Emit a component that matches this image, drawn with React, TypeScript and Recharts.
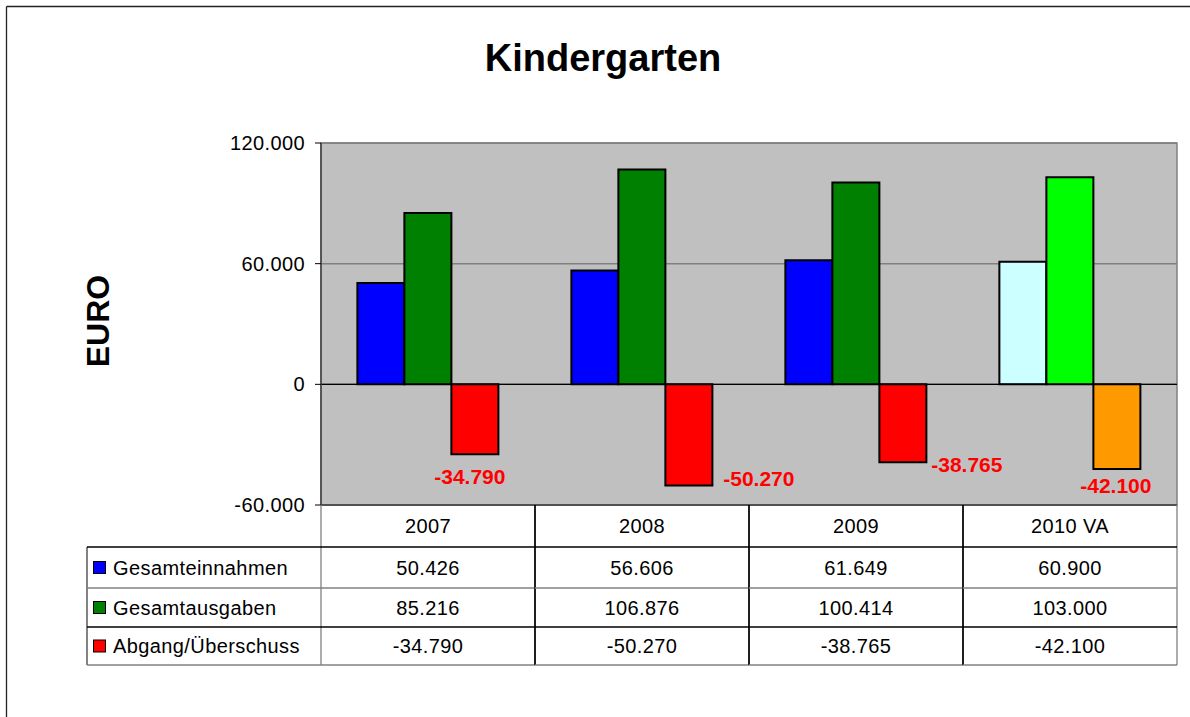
import React from 'react';
import {
  BarChart, Bar, XAxis, YAxis, CartesianGrid, Cell, LabelList, ReferenceLine, ReferenceArea,
} from 'recharts';

const categories = ['2007', '2008', '2009', '2010 VA'];
const einnahmen = [50426, 56606, 61649, 60900];
const ausgaben = [85216, 106876, 100414, 103000];
const abgang = [-34790, -50270, -38765, -42100];
const seriesNames = ['Gesamteinnahmen', 'Gesamtausgaben', 'Abgang/Überschuss'];
const yTicks = [-60000, 0, 60000, 120000];

const seriesColors = ['#0000FF', '#008000', '#FF0000'];
const forecastColors = ['#CCFFFF', '#00FF00', '#FF9900'];
const FONT = '"Liberation Sans", Arial, sans-serif';
const COL_W = 214;
// label offsets (dx, dy) from the bottom centre of each negative bar, as placed in the original
const LABEL_OFFSETS: [number, number][] = [[-5, 22], [70, -7], [64, 2], [-1, 16]];

const data = categories.map((year, i) => ({
  year,
  einnahmen: einnahmen[i],
  ausgaben: ausgaben[i],
  abgang: abgang[i],
}));

const fmt = (v: number): string => {
  const s = Math.abs(Math.round(v)).toString().replace(/\B(?=(\d{3})+(?!\d))/g, '.');
  return (v < 0 ? '-' : '') + s;
};

const rowSeries = [einnahmen, ausgaben, abgang];
// row boundaries relative to the axis top
const ROW_EDGES = [0, 42, 83, 122, 160];
const ROW_LINE_COLORS = ['#000', '#808080', '#000', '#808080'];

const TableTick = (props: any) => {
  const { x, y, payload, index } = props;
  const top = y;
  const left = x - COL_W / 2;
  const right = x + COL_W / 2;
  const i = index ?? categories.indexOf(payload.value);
  return (
    <g>
      <line x1={left} x2={left} y1={top} y2={top + ROW_EDGES[4]} stroke={i === 0 ? '#808080' : '#000'} strokeWidth={1.3} />
      <line x1={right} x2={right} y1={top} y2={top + ROW_EDGES[4]} stroke={i === 3 ? '#808080' : '#000'} strokeWidth={1.3} />
      {ROW_EDGES.slice(1).map((e, k) => (
        <line key={k} x1={left} x2={right} y1={top + e} y2={top + e} stroke={ROW_LINE_COLORS[k]} strokeWidth={1.3} />
      ))}
      <text x={x} y={top + 28} textAnchor="middle" fontSize={20} letterSpacing={0.4} fill="#000" fontFamily={FONT}>
        {payload.value}
      </text>
      {rowSeries.map((arr, k) => (
        <text key={k} x={x} y={top + (ROW_EDGES[k + 1] + ROW_EDGES[k + 2]) / 2 + 7} textAnchor="middle" fontSize={20} letterSpacing={0.4} fill="#000" fontFamily={FONT}>
          {fmt(arr[i])}
        </text>
      ))}
    </g>
  );
};

const NegLabel = (props: any) => {
  const { x, y, width, height, value, index } = props;
  const bottom = Math.max(y, y + height);
  const cx = x + width / 2;
  const [dx, dy] = LABEL_OFFSETS[index] || [0, 16];
  return (
    <text x={cx + dx} y={bottom + dy + 7.5} textAnchor="middle" fontSize={21} fontWeight="bold" fill="#FF0000" fontFamily={FONT}>
      {fmt(value)}
    </text>
  );
};

export default function App() {
  const tableTop = 505;
  return (
    <div style={{ position: 'absolute', left: 0, top: 0, width: 1190, height: 717, background: '#fff', fontFamily: FONT, overflow: 'hidden' }}>
      <BarChart
        width={1190}
        height={717}
        data={data}
        margin={{ top: 143, right: 13, left: 241, bottom: 52 }}
        barCategoryGap="17%"
        barGap={0}
      >
        <CartesianGrid vertical={false} fill="#C0C0C0" stroke="#808080" strokeWidth={1.5} />
        <XAxis
          dataKey="year"
          height={160}
          interval={0}
          tickLine={false}
          tickSize={0}
          tickMargin={0}
          axisLine={{ stroke: '#404040', strokeWidth: 1.5 }}
          tick={<TableTick />}
        />
        <YAxis
          width={80}
          domain={[-60000, 120000]}
          ticks={yTicks}
          tickFormatter={fmt}
          tick={{ fill: '#000', fontSize: 20, fontFamily: FONT, letterSpacing: 0.4 }}
          tickSize={6}
          tickMargin={10}
          axisLine={{ stroke: '#404040', strokeWidth: 1.5 }}
          tickLine={{ stroke: '#000' }}
        />
        <ReferenceArea y1={-60000} y2={120000} fill="none" stroke="#808080" strokeWidth={1.5} fillOpacity={0} />
        <Bar dataKey="einnahmen" name={seriesNames[0]} stroke="#000" strokeWidth={2} isAnimationActive={false}>
          {data.map((d, i) => (
            <Cell key={i} fill={i === 3 ? forecastColors[0] : seriesColors[0]} />
          ))}
        </Bar>
        <Bar dataKey="ausgaben" name={seriesNames[1]} stroke="#000" strokeWidth={2} isAnimationActive={false}>
          {data.map((d, i) => (
            <Cell key={i} fill={i === 3 ? forecastColors[1] : seriesColors[1]} />
          ))}
        </Bar>
        <Bar dataKey="abgang" name={seriesNames[2]} stroke="#000" strokeWidth={2} isAnimationActive={false}>
          {data.map((d, i) => (
            <Cell key={i} fill={i === 3 ? forecastColors[2] : seriesColors[2]} />
          ))}
          <LabelList dataKey="abgang" content={<NegLabel />} />
        </Bar>
        <ReferenceLine y={0} stroke="#000" strokeWidth={1.3} />
      </BarChart>
      <svg width={1190} height={717} style={{ position: 'absolute', left: 0, top: 0, pointerEvents: 'none' }}>
        <line x1={6.5} y1={6.5} x2={1190} y2={6.5} stroke="#222" strokeWidth={1.3} />
        <line x1={6.5} y1={6.5} x2={6.5} y2={717} stroke="#222" strokeWidth={1.3} />
        <text x={603} y={71} textAnchor="middle" fontSize={38} fontWeight="bold" fill="#000" fontFamily={FONT}>
          Kindergarten
        </text>
        <text x={98} y={321} transform="rotate(-90 98 321)" textAnchor="middle" dominantBaseline="central" fontSize={32} fontWeight="bold" fill="#000" fontFamily={FONT}>
          EURO
        </text>
        {/* label column of the data table */}
        <g>
          <line x1={87} x2={87} y1={tableTop + 42} y2={tableTop + 160} stroke="#404040" strokeWidth={1.3} />
          {ROW_EDGES.slice(1).map((e, k) => (
            <line key={k} x1={87} x2={321} y1={tableTop + e} y2={tableTop + e} stroke={ROW_LINE_COLORS[k]} strokeWidth={1.3} />
          ))}
          {seriesNames.map((n, k) => {
            const cy = tableTop + (ROW_EDGES[k + 1] + ROW_EDGES[k + 2]) / 2;
            return (
              <g key={k}>
                <rect x={93.5} y={cy - 6} width={12} height={12} fill={seriesColors[k]} stroke="#000" strokeWidth={1} />
                <text x={113} y={cy + 7} fontSize={20} letterSpacing={0.4} fill="#000" fontFamily={FONT}>{n}</text>
              </g>
            );
          })}
        </g>
      </svg>
    </div>
  );
}
